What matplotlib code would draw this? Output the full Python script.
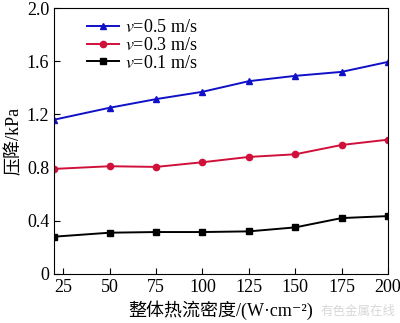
import matplotlib
matplotlib.use("Agg")
import matplotlib.pyplot as plt

heat_flux = [20, 50, 75, 100, 125, 150, 175, 200]
dp_v05 = [1.16, 1.25, 1.315, 1.37, 1.45, 1.49, 1.52, 1.595]
dp_v03 = [0.79, 0.81, 0.805, 0.84, 0.88, 0.90, 0.97, 1.01]
dp_v01 = [0.28, 0.31, 0.315, 0.315, 0.32, 0.35, 0.42, 0.435]
x_ticks = [25, 50, 75, 100, 125, 150, 175, 200]
y_ticks = [0, 0.4, 0.8, 1.2, 1.6, 2.0]
y_tick_labels = ["0", "0.4", "0.8", "1.2", "1.6", "2.0"]

plt.rcParams['font.family'] = ['Liberation Serif', 'Noto Sans CJK SC', 'DejaVu Serif']
plt.rcParams['mathtext.fontset'] = 'stix'

fig = plt.figure(figsize=(4.0, 3.23), dpi=100)
ax = fig.add_axes([0.135, 0.152, 0.835, 0.823])

ax.plot(heat_flux, dp_v05, color='#1010c8', marker='^', markersize=4.5, lw=1.4,
        label=r'$v$=0.5 m/s')
ax.plot(heat_flux, dp_v03, color='#d0103a', marker='o', markersize=4.5, lw=1.4,
        label=r'$v$=0.3 m/s')
ax.plot(heat_flux, dp_v01, color='black', marker='s', markersize=4.5, lw=1.4,
        label=r'$v$=0.1 m/s')

ax.set_xlim(20, 200)
ax.set_ylim(0, 2.0)
ax.set_xticks(x_ticks)
ax.set_yticks(y_ticks)
ax.set_yticklabels(y_tick_labels)
ax.tick_params(direction='in', labelsize=13, length=4, width=0.8, top=False, right=False)
for s in ax.spines.values():
    s.set_linewidth(0.8)

ax.set_xlabel('整体热流密度/(W·cm⁻²)', fontsize=13, labelpad=3)
ax.set_ylabel('压降/kPa', fontsize=13, labelpad=3)

leg = ax.legend(loc='upper left', bbox_to_anchor=(0.05, 1.02), frameon=False,
                fontsize=13, handlelength=1.8, handletextpad=0.3, labelspacing=0.05)

fig.text(0.988, 0.015, '有色金属在线', ha='right', va='bottom', fontsize=9,
         color='#d8d8d8', family=['Noto Sans CJK SC'])

fig.savefig('out.png', dpi=100)
